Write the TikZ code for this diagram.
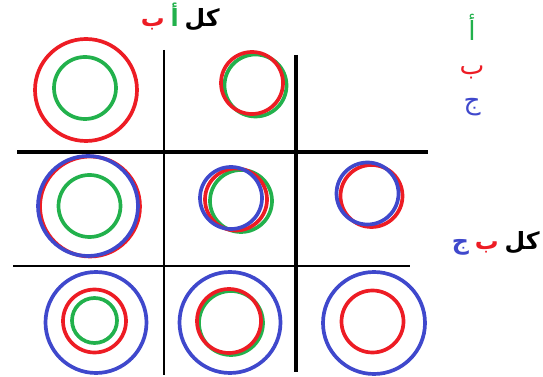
\documentclass[tikz,border=0pt]{standalone}
\usepackage{fontspec}
\usetikzlibrary{positioning}
\TeXXeTstate=1
\newfontfamily\arabicfont[Script=Arabic]{DejaVu Sans}
\definecolor{agreen}{HTML}{22B14C}
\definecolor{bred}{HTML}{ED1C24}
\definecolor{cblue}{HTML}{3F48CC}
\tikzset{
  gridbold/.style={line width=2pt},
  gridthin/.style={line width=1.3pt},
  ring/.style={line width=2.1pt},
  lbl/.style={font=\arabicfont\bfseries\fontsize{13.5}{16}\selectfont,inner sep=0pt},
  legend/.style={font=\arabicfont\fontsize{15}{18}\selectfont,inner sep=0pt,anchor=base}
}

\begin{document}
\begin{tikzpicture}[x=0.02cm,y=-0.02cm]
    \useasboundingbox (0,0) rectangle (543,377);

    % grid
    \draw[gridthin] (164,50) -- (164,375);
    \draw[gridbold] (296,55) -- (296,372);
    \draw[gridbold] (17,152) -- (428,152);
    \draw[gridthin] (13,266) -- (410,266);

    % row 1
    \draw[ring,agreen] (85,88) circle (31);
    \draw[ring,bred] (86,90) circle (51);
    \draw[ring,agreen] (255.5,85.5) circle (31);
    \draw[ring,bred] (252,83) circle (31);

    % row 2
    \draw[ring,agreen] (89.5,206) circle (31);
    \draw[ring,bred] (90,206.5) circle (50);
    \draw[ring,cblue] (88,206) circle (50);
    \draw[ring,agreen] (241,201) circle (31);
    \draw[ring,bred] (236,199.5) circle (31);
    \draw[ring,cblue] (231,198) circle (31);
    \draw[ring,bred] (371.5,196) circle (31);
    \draw[ring,cblue] (367.5,193.5) circle (31);

    % row 3
    \draw[ring,agreen] (94.5,320.5) circle (22.5);
    \draw[ring,bred] (94.5,321) circle (31.5);
    \draw[ring,cblue] (96,322.5) circle (50.5);
    \draw[ring,agreen] (231,323) circle (32);
    \draw[ring,bred] (229,321) circle (32);
    \draw[ring,cblue] (230,322.5) circle (50.5);
    \draw[ring,bred] (372.5,321.5) circle (31);
    \draw[ring,cblue] (374,323) circle (51);

    % labels
    \node[lbl,anchor=base east] (kulTop) at (220,27) {\beginR كل\endR};
    \node[lbl,text=agreen,base left=3pt of kulTop] (alifTop) {أ};
    \node[lbl,text=bred,base left=3pt of alifTop] (baTop) {ب};

    \node[lbl,anchor=base east] (kulSide) at (540,250) {\beginR كل\endR};
    \node[lbl,text=bred,base left=3pt of kulSide] (baSide) {ب};
    \node[lbl,text=cblue,base left=3pt of baSide] (jimSide) {ج};

    \node[legend,text=agreen] (legA) at (472,41) {أ};
    \node[legend,text=bred] (legB) at (472,75) {ب};
    \node[legend,text=cblue] (legC) at (472,110) {ج};
\end{tikzpicture}
\end{document}
